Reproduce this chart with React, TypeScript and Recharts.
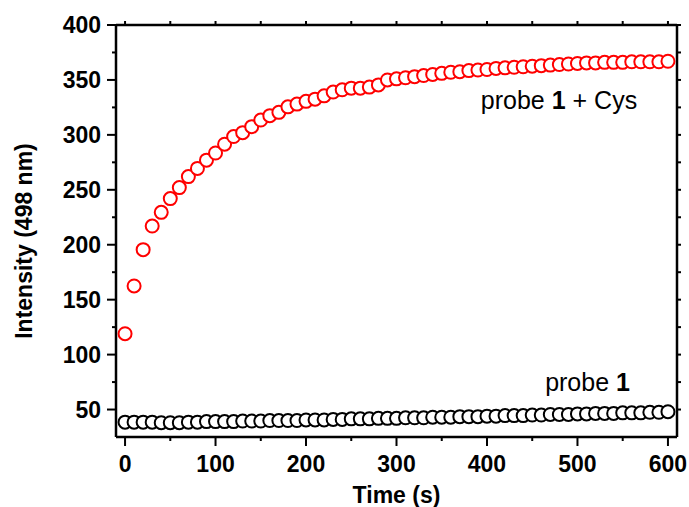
import { ScatterChart, Scatter, XAxis, YAxis, ReferenceDot } from 'recharts';

// time points (s)
const times = [
    0, 10, 20, 30, 40, 50, 60, 70, 80, 90,
    100, 110, 120, 130, 140, 150, 160, 170, 180, 190,
    200, 210, 220, 230, 240, 250, 260, 270, 280, 290,
    300, 310, 320, 330, 340, 350, 360, 370, 380, 390,
    400, 410, 420, 430, 440, 450, 460, 470, 480, 490,
    500, 510, 520, 530, 540, 550, 560, 570, 580, 590,
    600,
];

// probe 1 + Cys
const probeCys = [
    119, 162.5, 195.5, 217, 229.5, 242, 252, 262, 269.5, 277,
    283.5, 291.5, 298.5, 302, 307.5, 313.5, 317.5, 320.5, 325.5, 328,
    330.5, 332.5, 335.5, 339, 341, 342.5, 342.5, 343.5, 345.5, 350,
    351, 352, 353, 354, 355, 356, 357, 357.5, 358.5, 359,
    359.5, 360.5, 361, 361.5, 362, 362.5, 363, 363.5, 364, 364.5,
    365, 365.5, 365.5, 366, 366, 366, 366.5, 366.5, 366.5, 366.5,
    367,
];

// probe 1 alone
const probeOnly = [
    38.5, 38.5, 38.5, 38.5, 38, 38, 38, 38.5, 38.5, 39,
    39, 39, 39, 39.5, 39.5, 39.5, 40, 40, 40, 40,
    40.5, 40.5, 40.5, 41, 41, 41.5, 41.5, 41.5, 42, 42,
    42, 42.5, 42.5, 42.5, 43, 43, 43, 43.5, 43.5, 43.5,
    44, 44, 44.5, 44.5, 44.5, 45, 45, 45.5, 45.5, 45.5,
    46, 46, 46.5, 46.5, 46.5, 47, 47, 47, 47.5, 47.5,
    48,
];

const xTicks = [0, 50, 100, 150, 200, 250, 300, 350, 400, 450, 500, 550, 600];
const yTicks = [50, 75, 100, 125, 150, 175, 200, 225, 250, 275, 300, 325, 350, 375, 400];

const FONT = '"Liberation Sans", Arial, Helvetica, sans-serif';

const cysData = times.map((t, i) => ({ t, v: probeCys[i] }));
const probeData = times.map((t, i) => ({ t, v: probeOnly[i] }));

function LeftTick({ x, y, payload }: any) {
    const major = payload.value % 50 === 0;
    return (
        <g>
            <line x1={x} x2={x - (major ? 9 : 4)} y1={y} y2={y} stroke="#000" strokeWidth={2} />
            {major && (
                <text x={x - 15} y={y + 8} textAnchor="end" fontSize={23} fontWeight="bold" fontFamily={FONT} fill="#000">
                    {payload.value}
                </text>
            )}
        </g>
    );
}

function BottomTick({ x, y, payload }: any) {
    const major = payload.value % 100 === 0;
    return (
        <g>
            <line x1={x} x2={x} y1={y} y2={y + (major ? 9 : 4)} stroke="#000" strokeWidth={2} />
            {major && (
                <text x={x} y={y + 35} textAnchor="middle" fontSize={23} fontWeight="bold" fontFamily={FONT} fill="#000">
                    {payload.value}
                </text>
            )}
        </g>
    );
}

function TopTick({ x, y }: any) {
    return <line x1={x} x2={x} y1={y} y2={y - 4} stroke="#000" strokeWidth={2} />;
}

function RightTick({ x, y }: any) {
    return <line x1={x} x2={x + 4} y1={y} y2={y} stroke="#000" strokeWidth={2} />;
}

const xTitle = ({ viewBox }: any) => (
    <text x={viewBox.x + viewBox.width / 2} y={viewBox.y + 66} textAnchor="middle"
          fontSize={23} fontWeight="bold" fontFamily={FONT} fill="#000">
        Time (s)
    </text>
);

const yTitle = ({ viewBox }: any) => {
    const cx = viewBox.x + 32;
    const cy = viewBox.y + viewBox.height / 2 + 10;
    return (
        <text x={cx} y={cy} transform={`rotate(-90, ${cx}, ${cy})`} textAnchor="middle"
              fontSize={23} fontWeight="bold" fontFamily={FONT} fill="#000">
            Intensity (498 nm)
        </text>
    );
};

const cysLabel = ({ viewBox }: any) => (
    <text x={viewBox.x} y={viewBox.y} textAnchor="end" fontSize={25} fontFamily={FONT} fill="#000">
        <tspan>probe </tspan>
        <tspan fontWeight="bold">1</tspan>
        <tspan> + Cys</tspan>
    </text>
);

const probeLabel = ({ viewBox }: any) => (
    <text x={viewBox.x} y={viewBox.y} textAnchor="end" fontSize={25} fontFamily={FONT} fill="#000">
        <tspan>probe </tspan>
        <tspan fontWeight="bold">1</tspan>
    </text>
);

const axisLine = { stroke: '#000', strokeWidth: 2.5 };

const circle = (color: string) => (p: any) => (
    <circle cx={p.cx} cy={p.cy} r={6.5} fill="#fff" stroke={color} strokeWidth={2} />
);

export default function App() {
    return (
        <div style={{ position: 'absolute', left: 0, top: 0, background: '#fff' }}>
            <ScatterChart width={689} height={507} margin={{ top: 24, right: 11, bottom: 0, left: 0 }}>
                <XAxis type="number" dataKey="t" domain={[-10, 610]} ticks={xTicks} interval={0}
                       height={70} tickSize={0} tickMargin={0} tickLine={false}
                       axisLine={axisLine} tick={<BottomTick />} label={xTitle} allowDataOverflow />
                <XAxis xAxisId="top" orientation="top" type="number" dataKey="t" domain={[-10, 610]} ticks={xTicks} interval={0}
                       height={1} tickSize={0} tickMargin={0} tickLine={false}
                       axisLine={axisLine} tick={<TopTick />} allowDataOverflow />
                <YAxis type="number" dataKey="v" domain={[25, 400]} ticks={yTicks} interval={0}
                       width={116} tickSize={0} tickMargin={0} tickLine={false}
                       axisLine={axisLine} tick={<LeftTick />} label={yTitle} allowDataOverflow />
                <YAxis yAxisId="right" orientation="right" type="number" dataKey="v" domain={[25, 400]} ticks={yTicks} interval={0}
                       width={1} tickSize={0} tickMargin={0} tickLine={false}
                       axisLine={axisLine} tick={<RightTick />} allowDataOverflow />
                {/* hidden series so the top and right frame axes get drawn */}
                <Scatter xAxisId="top" yAxisId="right" data={cysData} shape={() => <g />} isAnimationActive={false} />
                <Scatter data={cysData} shape={circle('#ff0000')} isAnimationActive={false} />
                <Scatter data={probeData} shape={circle('#000000')} isAnimationActive={false} />
                <ReferenceDot x={566} y={323.6} r={0} fill="none" stroke="none" label={cysLabel} />
                <ReferenceDot x={558} y={66.6} r={0} fill="none" stroke="none" label={probeLabel} />
            </ScatterChart>
        </div>
    );
}
